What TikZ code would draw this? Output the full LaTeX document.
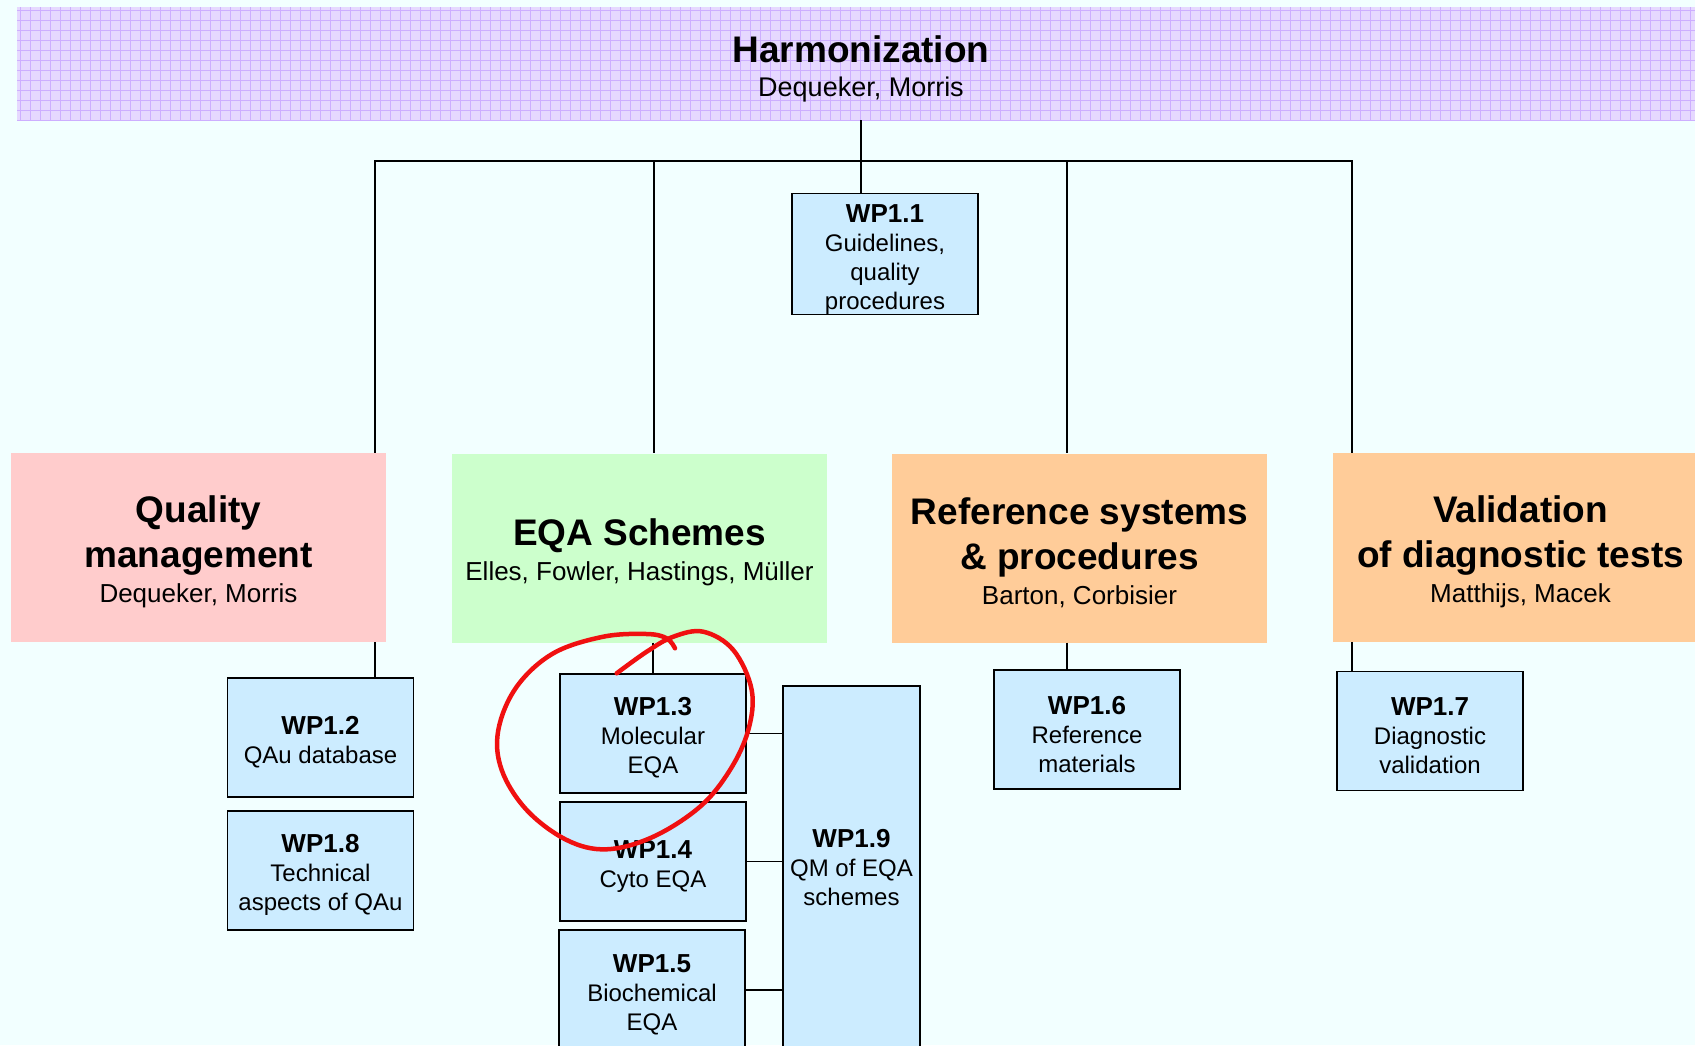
\documentclass[tikz,border=0pt]{standalone}
\usepackage{fontspec}
\setmainfont{Liberation Sans}
\definecolor{bgcol}{HTML}{F2FFFF}
\definecolor{hdrfill}{HTML}{E6D8FF}
\definecolor{hdrgrid}{HTML}{CDAEFF}
\definecolor{qmfill}{HTML}{FFCCCC}
\definecolor{eqafill}{HTML}{CCFFCC}
\definecolor{orfill}{HTML}{FFCC99}
\definecolor{wpblue}{HTML}{CCECFF}
\definecolor{markred}{HTML}{F01010}
\newcommand{\mywpstrut}{\rule{0pt}{27.5pt}}
\newcommand{\mycbstrut}{\rule{0pt}{36pt}}
\begin{document}
\begin{tikzpicture}[x=1pt,y=-1pt,
  conn/.style={draw=black,line width=1.7pt},
  cbox/.style={rectangle,inner sep=0pt,minimum width=375pt,minimum height=189pt,align=center,
    font=\fontsize{37}{45}\selectfont\bfseries},
  wpbox/.style={rectangle,draw=black,line width=1.7pt,fill=wpblue,inner sep=0pt,
    minimum width=186pt,minimum height=119pt,align=center,font=\fontsize{24}{29}\selectfont}
]
\useasboundingbox (0,0) rectangle (1695,1045);
\fill[bgcol] (0,0) rectangle (1695,1045);

% header band
\node[rectangle,fill=hdrfill,inner sep=0pt,minimum width=1690pt,minimum height=113pt,anchor=north west] (hdr) at (17,7) {};
\begin{scope}
\clip (17,7) rectangle (1700,120);
\foreach \gx in {20,30,...,1700} \draw[hdrgrid,line width=0.8pt] (\gx,7) -- (\gx,120);
\foreach \gy in {10,20,...,120} \draw[hdrgrid,line width=0.8pt] (17,\gy) -- (1700,\gy);
\end{scope}
\node[align=center,inner sep=0pt,font=\fontsize{27}{45}\selectfont] (hdrtext) at (861,69)
  {{\fontsize{37}{45}\selectfont\bfseries Harmonization}\\[-11pt]Dequeker, Morris};

% group boxes
\node[cbox,fill=qmfill] (qm) at (198.5,547.5)
  {\mycbstrut Quality\\management\\[-10pt]{\mdseries\fontsize{26}{35}\selectfont Dequeker, Morris}};
\node[cbox,fill=eqafill] (eqa) at (639.5,548)
  {\mycbstrut EQA Schemes\\[-10pt]{\mdseries\fontsize{26}{35}\selectfont Elles, Fowler, Hastings, Müller}};
\node[cbox,fill=orfill] (ref) at (1079.5,548)
  {\mycbstrut Reference systems\\\& procedures\\[-10pt]{\mdseries\fontsize{26}{35}\selectfont Barton, Corbisier}};
\node[cbox,fill=orfill] (val) at (1520.5,547.5)
  {\mycbstrut Validation\\of diagnostic tests\\[-10pt]{\mdseries\fontsize{26}{35}\selectfont Matthijs, Macek}};

% work packages
\node[wpbox] (wp11) at (885,254) {\rule{0pt}{29pt}{\bfseries\fontsize{26}{29}\selectfont WP1.1}\\Guidelines,\\quality\\procedures};
\node[wpbox] (wp12) at (320.5,737.5) {\mywpstrut{\bfseries\fontsize{26}{29}\selectfont WP1.2}\\QAu database};
\node[wpbox] (wp18) at (320.5,870.5) {\mywpstrut{\bfseries\fontsize{26}{29}\selectfont WP1.8}\\Technical\\aspects of QAu};
\node[wpbox] (wp13) at (653,733.5) {\mywpstrut{\bfseries\fontsize{26}{29}\selectfont WP1.3}\\Molecular\\EQA};
\node[wpbox] (wp14) at (653,861.5) {\mywpstrut{\bfseries\fontsize{26}{29}\selectfont WP1.4}\\Cyto EQA};
\node[wpbox,minimum height=120pt] (wp15) at (652,990) {\mywpstrut{\bfseries\fontsize{26}{29}\selectfont WP1.5}\\Biochemical\\EQA};
\node[wpbox,minimum width=137pt,minimum height=364pt] (wp19) at (851.5,868) {{\bfseries\fontsize{26}{29}\selectfont WP1.9}\\QM of EQA\\schemes};
\node[wpbox] (wp16) at (1087,729.5) {\mywpstrut{\bfseries\fontsize{26}{29}\selectfont WP1.6}\\Reference\\materials};
\node[wpbox] (wp17) at (1430,731) {\mywpstrut{\bfseries\fontsize{26}{29}\selectfont WP1.7}\\Diagnostic\\validation};

% bus coordinates
\coordinate (busL) at (375,161);
\coordinate (busE) at (654,161);
\coordinate (busF) at (1067,161);
\coordinate (busR) at (1352,161);

% connectors
\draw[conn] (hdrtext.center |- hdr.south) -- (hdrtext.center |- wp11.north);
\draw[conn] (qm.north -| busL) -- (busL) -- (busR) -- (val.north -| busR);
\draw[conn] (busE) -- (busE |- eqa.north);
\draw[conn] (busF) -- (busF |- ref.north);
\draw[conn] (qm.south -| busL) -- (wp12.north -| busL);
\draw[conn] (wp13.north |- eqa.south) -- (wp13.north);
\draw[conn] (ref.south -| busF) -- (wp16.north -| busF);
\draw[conn] (val.south -| busR) -- (wp17.north -| busR);
\draw[conn] (wp13.east) -- (wp13.east -| wp19.west);
\draw[conn] (wp14.east) -- (wp14.east -| wp19.west);
\draw[conn] (wp15.east) -- (wp15.east -| wp19.west);

% red hand-drawn mark
\draw[markred,line width=4.5pt,line cap=round,line join=round]
  plot[smooth,tension=0.6] coordinates {
  (616.7,673.3) (646.7,651.7) (673.3,636.7) (703.3,631.7) (733.3,650) (751.7,690)
  (748.3,730) (730,770) (700,806.7) (653.3,836.7) (606.7,849.3) (566.7,840)
  (526.7,810) (501.7,770) (498.3,730) (516.7,686.7) (553.3,653.3) (603.3,636.7)
  (646.7,634) (666.7,638.3) (675,648.3)};
\end{tikzpicture}
\end{document}
